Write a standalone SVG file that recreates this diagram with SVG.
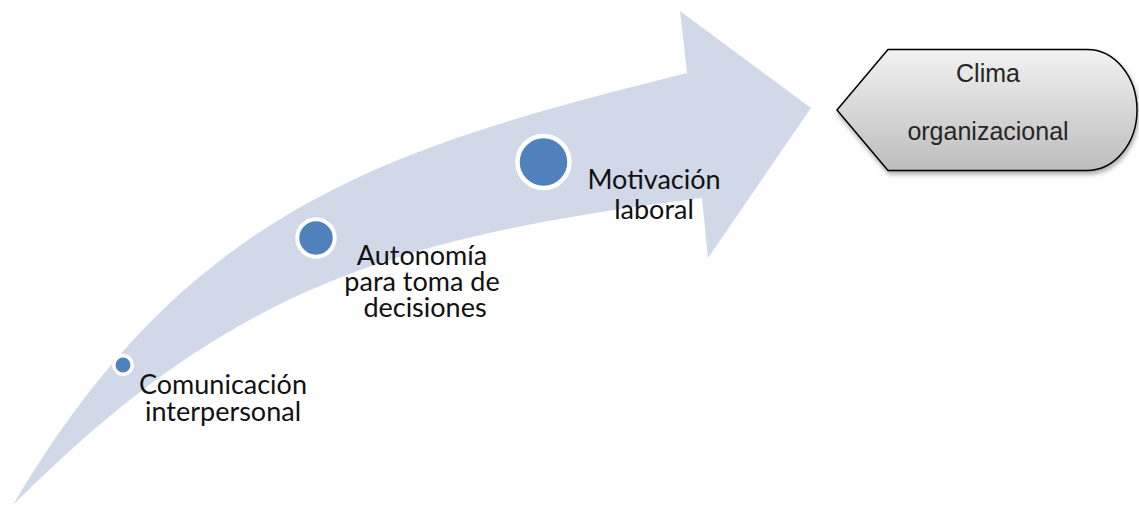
<svg xmlns="http://www.w3.org/2000/svg" width="1139" height="507" viewBox="0 0 1139 507">
  <style>
    .label { font-family: Lato, "Open Sans", "Liberation Sans", sans-serif; font-size: 27px; fill: #111111; text-anchor: middle; }
    .dot { fill: #4F81BD; stroke: #FFFFFF; }
    .box-text { font-family: "Liberation Sans", Arial, sans-serif; font-size: 25px; fill: #262626; text-anchor: middle; }
  </style>
  <defs>
    <linearGradient id="boxFill" x1="0" y1="0" x2="0" y2="1">
      <stop offset="0" stop-color="#F2F2F2"/>
      <stop offset="1" stop-color="#BDBDBD"/>
    </linearGradient>
    <filter id="softShadow" x="-10%" y="-20%" width="120%" height="150%">
      <feGaussianBlur in="SourceAlpha" stdDeviation="2.5"/>
      <feOffset dx="1" dy="3" result="blur"/>
      <feComponentTransfer><feFuncA type="linear" slope="0.35"/></feComponentTransfer>
      <feMerge><feMergeNode/><feMergeNode in="SourceGraphic"/></feMerge>
    </filter>
  </defs>

  <!-- curved upward arrow carrying the three stages -->
  <g id="connectors">
    <path id="curved-arrow" fill="#D1D8E7"
          d="M13,505 C188,207.5 387,148 687,73 L680,11 L811,108 L708,258 L702,198 C380,238 223,295 13,505 Z"/>
  </g>

  <g id="stage-comunicacion">
    <circle class="dot" cx="123" cy="365" r="9.2" stroke-width="3.5"/>
    <text class="label"><tspan x="223" y="393.5">Comunicación</tspan><tspan x="223" y="420.5">interpersonal</tspan></text>
  </g>

  <g id="stage-autonomia">
    <circle class="dot" cx="316" cy="238" r="18.7" stroke-width="4"/>
    <text class="label"><tspan x="422" y="264.5">Autonomía</tspan><tspan x="422" y="290.5">para toma de</tspan><tspan x="425" y="316.5">decisiones</tspan></text>
  </g>

  <g id="stage-motivacion">
    <circle class="dot" cx="543.5" cy="162" r="26" stroke-width="4.5"/>
    <text class="label"><tspan x="654" y="188.5">Motivación</tspan><tspan x="654" y="218.5">laboral</tspan></text>
  </g>

  <!-- display-style target box -->
  <g id="clima-organizacional">
    <path filter="url(#softShadow)" fill="url(#boxFill)" stroke="#000000" stroke-width="1.5"
          d="M837,110 L888,49.5 L1087,49.5 A50,60.5 0 0 1 1087,170.5 L888,170.5 Z"/>
    <text class="box-text"><tspan x="988" y="82">Clima</tspan><tspan x="988" y="140">organizacional</tspan></text>
  </g>
</svg>
